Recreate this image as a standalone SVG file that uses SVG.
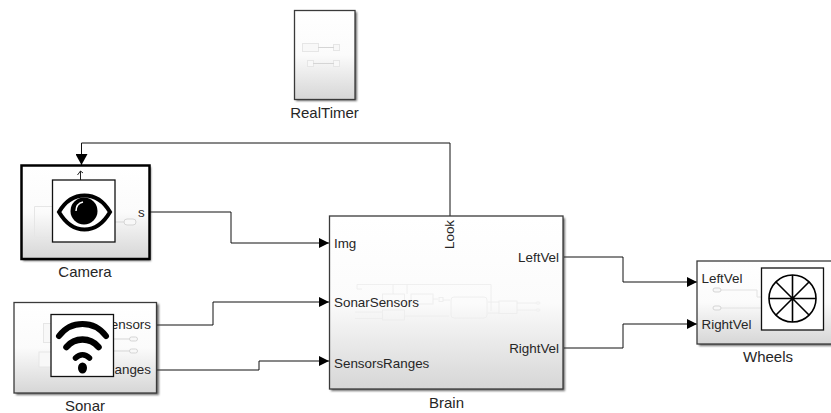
<svg xmlns="http://www.w3.org/2000/svg" width="831" height="413" viewBox="0 0 831 413">
<style>
text{font-family:"Liberation Sans",Arial,sans-serif;fill:#262626}
.lbl{font-size:13.400px}
.name{font-size:15px}
.blk{stroke:#3a3a3a;stroke-width:1.300;fill:url(#g)}
.shadow{fill:#333;opacity:.7;filter:url(#b)}
.wire{fill:none;stroke:#111;stroke-width:1}
.ghost{fill:none;stroke:#e6e6e6;stroke-width:1}
.ghostf{fill:#f8f8f8;stroke:#e6e6e6;stroke-width:1}
.icon{fill:#fff;stroke:#111;stroke-width:1.300}
</style>
<defs>
<linearGradient id="g" x1="0" y1="0" x2="0" y2="1"><stop offset="0" stop-color="#fff"/><stop offset=".5" stop-color="#fbfbfb"/><stop offset="1" stop-color="#d6d6d6"/></linearGradient>
<filter id="b" x="-10%" y="-10%" width="120%" height="120%"><feGaussianBlur stdDeviation="1.200"/></filter>
<marker id="a" markerUnits="userSpaceOnUse" markerWidth="11" markerHeight="11" refX="10" refY="5" orient="auto"><path d="M0 0L10 5L0 10Z" fill="#000"/></marker>
<marker id="big" markerUnits="userSpaceOnUse" markerWidth="12" markerHeight="12" refX="11" refY="6" orient="auto"><path d="M0 0L11 6L0 12Z" fill="#000"/></marker>
</defs>
<rect width="831" height="413" fill="#fff"/>
<g id="connectors">
<path class="wire" marker-end="url(#big)" d="M450 216V143H81.500V165"/>
<path class="wire" marker-end="url(#a)" d="M150 212H231V243H329"/>
<path class="wire" marker-end="url(#a)" d="M157 325H213V302H329"/>
<path class="wire" marker-end="url(#a)" d="M157 370H259V361H329"/>
<path class="wire" marker-end="url(#a)" d="M564 257H623V282H697"/>
<path class="wire" marker-end="url(#a)" d="M564 348H623V324H697"/>
</g>
<g id="RealTimer">
<rect class="shadow" x="296" y="12" width="61" height="89"/>
<rect class="blk" x="294.500" y="10.500" width="60.500" height="89"/>
<rect class="ghostf" x="302.500" y="43.500" width="16" height="8"/>
<rect class="ghostf" x="333.500" y="44.500" width="6" height="6"/>
<rect class="ghostf" x="307.500" y="60.500" width="6" height="6"/>
<rect class="ghostf" x="333.500" y="60.500" width="6" height="6"/>
<path d="M318 47.500H334M313 63.500H334" fill="none" stroke="#d5d5d5"/>
<text x="324.500" y="117.500" text-anchor="middle" class="name">RealTimer</text>
</g>
<g id="Camera">
<rect class="shadow" x="23" y="167" width="128" height="94"/>
<rect class="blk" x="21.500" y="165.500" width="128" height="93.500" style="stroke:#000;stroke-width:2.500"/>
<path class="ghost" d="M52 206.500H34.500V237.500H52"/>
<path d="M115 222H124" stroke="#d5d5d5" fill="none"/>
<rect x="124" y="219" width="12" height="6" rx="3" fill="#f8f8f8" stroke="#d5d5d5"/>
<path d="M80.500 180V171M77.500 175L80.500 171L83 173" fill="none" stroke="#222" stroke-width="1"/>
<text x="138" y="217" class="lbl">s</text>
<rect class="icon" x="52.500" y="180" width="62.500" height="62"/>
<path d="M59 212C66 200 75 195.500 84.500 195.500C94 195.500 103 200 110 212C103 224 94 229.500 84.500 229.500C75 229.500 66 224 59 212Z" fill="#fff" stroke="#000" stroke-width="4"/>
<circle cx="84" cy="211" r="13.500" fill="#000"/>
<path d="M76 211C76 206 79 203 83 202" fill="none" stroke="#fff" stroke-width="1.500"/>
<text x="85" y="277" class="name" text-anchor="middle">Camera</text>
</g>
<g id="Sonar">
<rect class="shadow" x="16" y="304" width="143" height="91"/>
<rect class="blk" x="14" y="302.500" width="142.500" height="90.500"/>
<rect class="ghostf" x="43.500" y="323.500" width="10" height="19"/>
<rect class="ghostf" x="39" y="352" width="14" height="15"/>
<path d="M112 339H130M112 351H130" stroke="#d5d5d5" fill="none"/>
<rect x="129.500" y="337" width="8" height="4" rx="2" fill="#f8f8f8" stroke="#d5d5d5"/>
<rect x="129.500" y="349" width="8" height="4" rx="2" fill="#f8f8f8" stroke="#d5d5d5"/>
<text x="151" y="329" class="lbl" text-anchor="end">SonarSensors</text>
<text x="151" y="374" class="lbl" text-anchor="end">SensorsRanges</text>
<rect class="icon" x="51" y="314.500" width="62.500" height="62"/>
<path d="M59 336C71 320 94 320 106 336" fill="none" stroke="#000" stroke-width="6" stroke-linecap="round"/>
<path d="M66.500 347C75 337 90 337 98.500 347" fill="none" stroke="#000" stroke-width="6.500" stroke-linecap="round"/>
<path d="M75.500 358C80 353.500 85 353.500 89.500 358" fill="none" stroke="#000" stroke-width="5.500" stroke-linecap="round"/>
<ellipse cx="82.500" cy="368" rx="4.500" ry="5.500" fill="#000"/>
<text x="85" y="410.500" class="name" text-anchor="middle">Sonar</text>
</g>
<g id="Brain">
<rect class="shadow" x="331" y="218" width="234" height="173"/>
<rect class="blk" x="329.500" y="216" width="233.500" height="173"/>
<g fill="none" stroke="#ececec" stroke-width=".8">
<path d="M357 284.500H491V311M393 284.500V294M407 284.500V294M357 284.500V289H362M355 312H382M355 318.500H382M405 316H449M433 299H438M443 300H450M488 302H499M488 313H499M517 303H536M517 310H536"/>
<rect x="382.500" y="294" width="22" height="10"/><rect x="382.500" y="310" width="22" height="10"/>
<rect x="411" y="294" width="22" height="10"/><rect x="439" y="297.500" width="4" height="4"/>
<rect x="451" y="297" width="36" height="21" rx="3"/><rect x="499" y="301" width="18" height="12.500"/>
<rect x="536" y="302" width="4" height="2" rx="1"/><rect x="536" y="309" width="4" height="2" rx="1"/>
</g>
<text x="334" y="248" class="lbl">Img</text>
<text x="334" y="307" class="lbl">SonarSensors</text>
<text x="334" y="367.500" class="lbl">SensorsRanges</text>
<text x="559" y="262" class="lbl" text-anchor="end">LeftVel</text>
<text x="559" y="352.500" class="lbl" text-anchor="end">RightVel</text>
<text transform="translate(453.500 249) rotate(-90)" class="lbl">Look</text>
<text x="446.500" y="408" class="name" text-anchor="middle">Brain</text>
</g>
<g id="Wheels">
<rect class="shadow" x="699" y="263" width="134" height="83"/>
<rect class="blk" x="697" y="261" width="135" height="83"/>
<path d="M718 290H757V297H765M718 308H765" stroke="#e2e2e2" fill="none"/>
<rect x="713" y="288" width="8" height="4" rx="2" fill="#f8f8f8" stroke="#d5d5d5"/>
<rect x="713" y="306" width="8" height="4" rx="2" fill="#f8f8f8" stroke="#d5d5d5"/>
<text x="701.500" y="283" class="lbl">LeftVel</text>
<text x="701.500" y="329" class="lbl">RightVel</text>
<rect class="icon" x="761.500" y="268" width="62" height="62"/>
<g fill="none" stroke="#000" stroke-width="1.600">
<circle cx="792.500" cy="298.500" r="23.500"/>
<path d="M792.500 275V322M769 298.500H816M776 282L809 315M809 282L776 315"/>
</g>
<text x="768" y="362" class="name" text-anchor="middle">Wheels</text>
</g>
</svg>
